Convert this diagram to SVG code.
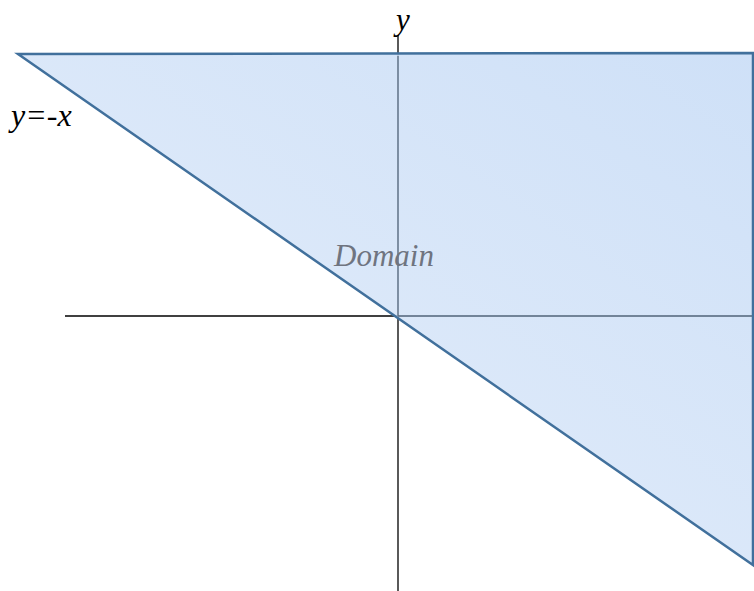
<svg xmlns="http://www.w3.org/2000/svg" width="754" height="591" viewBox="0 0 754 591">
<defs>
<linearGradient id="g" x1="0" y1="1" x2="1" y2="0">
<stop offset="0" stop-color="#e2ecfa"/>
<stop offset="1" stop-color="#c6dbf6"/>
</linearGradient>
<style>
.axis{stroke:#000;stroke-width:1.3;fill:none}
.axin{stroke:#5a6c82;stroke-width:1.3;fill:none}
.lbl{font-family:"Liberation Serif",serif;font-style:italic;font-size:31px}
</style>
</defs>
<rect width="754" height="591" fill="#fff"/>
<g id="axes">
<line class="axis" x1="65" y1="316" x2="754" y2="316"/>
<line class="axis" x1="398" y1="35" x2="398" y2="591"/>
</g>
<g id="domain">
<polygon points="18,54 753,53 753,565" fill="url(#g)" fill-opacity="0.85" stroke="#41709c" stroke-width="2.5" stroke-linejoin="miter"/>
<line class="axin" x1="398" y1="56" x2="398" y2="316"/>
<line class="axin" x1="398" y1="316" x2="752" y2="316"/>
<text class="lbl" x="384" y="266" text-anchor="middle" fill="#6f7480">Domain</text>
</g>
<g id="labels">
<text class="lbl" x="403" y="30" text-anchor="middle" fill="#000">y</text>
<text class="lbl" x="11" y="126" fill="#000" style="font-size:32px">y=-x</text>
</g>
</svg>
